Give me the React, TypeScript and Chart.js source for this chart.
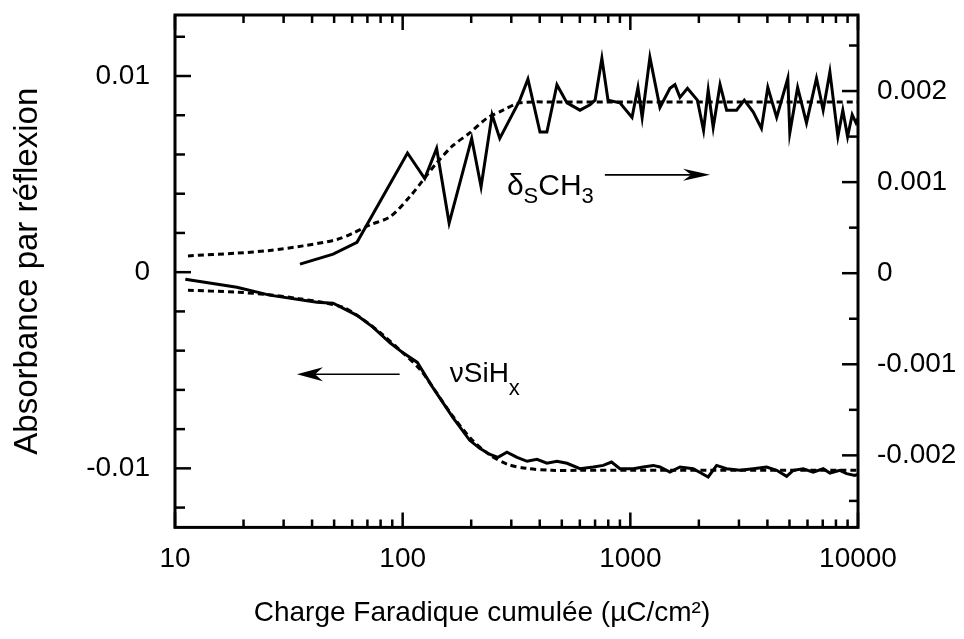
import React, { useEffect, useRef } from "react";
import { Chart, registerables } from "chart.js";

Chart.register(...registerables);

const FONT = "'Liberation Sans', Arial, Helvetica, sans-serif";

// ---- axes ----
const X_MIN = 10;
const X_MAX = 10000;
const X_TICKS = [10, 100, 1000, 10000];
const Y_LEFT_MIN = -0.01301;
const Y_LEFT_MAX = 0.01311;
const LEFT_TICKS = [-0.01, 0, 0.01];
const Y_RIGHT_MIN = -0.002791;
const Y_RIGHT_MAX = 0.002835;
const RIGHT_TICKS = [-0.002, -0.001, 0, 0.001, 0.002];

const X_TITLE = "Charge Faradique cumulée (µC/cm²)";
const Y_TITLE = "Absorbance par réflexion";

// ---- νSiHx measured (left axis) ----
const SIH_X = [11.1, 18.7, 26, 42, 49.5, 63, 74, 88, 100, 116, 136, 166, 197, 218, 242, 262, 287, 318, 352, 389, 430, 476, 527, 601, 688, 760, 827, 900, 1030, 1140, 1261, 1349, 1493, 1652, 1889, 2198, 2393, 2648, 3030, 3467, 3969, 4393, 4858, 5193, 5745, 6356, 7031, 7525, 8326, 8908, 9690, 10000];
const SIH_Y = [-0.00036, -0.00077, -0.00117, -0.00153, -0.00158, -0.0022, -0.0028, -0.0036, -0.0041, -0.0046, -0.0059, -0.0074, -0.00857, -0.00898, -0.00929, -0.00944, -0.00918, -0.00944, -0.00964, -0.00954, -0.00974, -0.00964, -0.00974, -0.01002, -0.00993, -0.00985, -0.00968, -0.01002, -0.01002, -0.00993, -0.00985, -0.00993, -0.01019, -0.00993, -0.01002, -0.01044, -0.00985, -0.01002, -0.0101, -0.01002, -0.00993, -0.0101, -0.01041, -0.0101, -0.01002, -0.01019, -0.01002, -0.01024, -0.0101, -0.01027, -0.01036, -0.0103];

// ---- νSiHx fit (left axis, dashed) ----
const SIH_FIT_X = [11.4, 18.7, 26, 35, 45, 55, 65, 80, 100, 120, 140, 165, 200, 240, 290, 350, 450, 600, 1000, 3000, 10000];
const SIH_FIT_Y = [-0.00092, -0.00102, -0.00115, -0.00135, -0.00155, -0.0018, -0.0023, -0.0031, -0.0041, -0.005, -0.0061, -0.0073, -0.0085, -0.0093, -0.0098, -0.01, -0.0101, -0.0101, -0.0101, -0.0101, -0.0101];

// ---- δsCH3 measured (right axis) ----
const CH3_X = [35.4, 49.5, 63, 105, 125, 141, 160, 201, 221, 247, 267, 327, 355, 401, 430, 476, 527, 601, 665, 700, 750, 798, 900, 1017, 1080, 1127, 1219, 1349, 1493, 1570, 1652, 1782, 1970, 2097, 2198, 2312, 2478, 2648, 2928, 3167, 3467, 3766, 4017, 4393, 4917, 5017, 5430, 5940, 6571, 7031, 7525, 8158, 8576, 9000, 9430, 9800, 10000];
const CH3_Y = [0.0001, 0.00021, 0.00034, 0.00132, 0.00104, 0.00137, 0.00055, 0.00148, 0.00095, 0.00174, 0.00148, 0.0019, 0.00213, 0.00155, 0.00155, 0.00207, 0.00187, 0.00179, 0.00185, 0.0019, 0.00236, 0.0019, 0.00187, 0.00171, 0.00204, 0.00171, 0.00237, 0.00182, 0.00203, 0.00207, 0.00193, 0.00203, 0.0019, 0.00157, 0.00201, 0.0016, 0.00207, 0.00179, 0.00179, 0.0019, 0.00177, 0.00159, 0.00204, 0.00171, 0.00214, 0.00154, 0.00204, 0.00165, 0.00214, 0.00179, 0.00221, 0.0015, 0.00179, 0.0015, 0.00174, 0.00165, 0.0017];

// ---- δsCH3 fit (right axis, dashed) ----
const CH3_FIT_X = [11.4, 18.7, 26.1, 36.5, 51.4, 60.5, 71.8, 88, 107.5, 122.7, 141, 166, 197, 234, 276, 327, 457, 1000, 3000, 10000];
const CH3_FIT_Y = [0.00019, 0.00022, 0.00025, 0.0003, 0.00037, 0.00044, 0.00053, 0.00062, 0.00084, 0.00102, 0.00121, 0.0014, 0.00154, 0.0017, 0.00179, 0.00187, 0.00188, 0.00188, 0.00188, 0.00188];

// ---- annotations (data coordinates) ----
const DELTA_LABEL = { x: 287, y: 0.00086 };
const DELTA_ARROW = { x0: 773, x1: 2240, y: 0.00108 };
const NU_LABEL = { x: 161, y: -0.00561 };
const NU_ARROW = { x0: 97, x1: 34.3, y: -0.0052 };

const zip = (xs: number[], ys: number[]) => xs.map((x, i) => ({ x, y: ys[i] }));

function drawArrow(ctx: CanvasRenderingContext2D, x0: number, x1: number, y: number, headLen: number, half: number) {
  const dir = Math.sign(x1 - x0);
  ctx.beginPath();
  ctx.lineWidth = 1.6;
  ctx.moveTo(x0, y);
  ctx.lineTo(x1 - dir * headLen * 0.6, y);
  ctx.stroke();
  ctx.beginPath();
  ctx.moveTo(x1, y);
  ctx.lineTo(x1 - dir * headLen, y - half);
  ctx.lineTo(x1 - dir * headLen * 0.7, y);
  ctx.lineTo(x1 - dir * headLen, y + half);
  ctx.closePath();
  ctx.fill();
}

function drawParts(ctx: CanvasRenderingContext2D, parts: { t: string; sub?: boolean }[], x: number, y: number, main: number, sub: number, off: number) {
  let cx = x;
  ctx.textBaseline = "alphabetic";
  ctx.textAlign = "left";
  for (const p of parts) {
    ctx.font = `${p.sub ? sub : main}px ${FONT}`;
    ctx.fillText(p.t, cx, p.sub ? y + off : y);
    cx += ctx.measureText(p.t).width;
  }
}

const framePlugin = {
  id: "frameTicks",
  afterDatasetsDraw(chart: any) {
    const { ctx, chartArea: ca, scales } = chart;
    const sx = scales.x;
    const yl = scales.y;
    const yr = scales.y2;
    ctx.save();
    ctx.strokeStyle = "#000";
    ctx.fillStyle = "#000";
    ctx.lineCap = "butt";
    ctx.lineWidth = 2.5;
    // x ticks (bottom and top, inward)
    for (let d = 10; d <= 10000; d *= 10) {
      for (let k = 1; k <= 9; k++) {
        const v = k * d;
        if (v > X_MAX) break;
        const px = sx.getPixelForValue(v);
        const len = k === 1 ? 15 : 8;
        ctx.beginPath();
        ctx.moveTo(px, ca.bottom);
        ctx.lineTo(px, ca.bottom - len);
        ctx.moveTo(px, ca.top);
        ctx.lineTo(px, ca.top + len);
        ctx.stroke();
      }
    }
    // left ticks
    for (let i = -6; i <= 6; i++) {
      const v = i * 0.002;
      const py = yl.getPixelForValue(v);
      const len = i % 5 === 0 ? 16 : 10;
      ctx.beginPath();
      ctx.moveTo(ca.left, py);
      ctx.lineTo(ca.left + len, py);
      ctx.stroke();
    }
    // right ticks
    for (let i = -5; i <= 5; i++) {
      const v = i * 0.0005;
      const py = yr.getPixelForValue(v);
      const len = i % 2 === 0 ? 16 : 9;
      ctx.beginPath();
      ctx.moveTo(ca.right, py);
      ctx.lineTo(ca.right - len, py);
      ctx.stroke();
    }
    // frame
    ctx.lineWidth = 3;
    ctx.strokeRect(ca.left, ca.top, ca.right - ca.left, ca.bottom - ca.top);

    // annotations
    drawParts(
      ctx,
      [{ t: "δ" }, { t: "S", sub: true }, { t: "CH" }, { t: "3", sub: true }],
      sx.getPixelForValue(DELTA_LABEL.x),
      yr.getPixelForValue(DELTA_LABEL.y),
      30,
      22,
      8
    );
    drawArrow(ctx, sx.getPixelForValue(DELTA_ARROW.x0), sx.getPixelForValue(DELTA_ARROW.x1), yr.getPixelForValue(DELTA_ARROW.y), 27, 6);
    drawParts(
      ctx,
      [{ t: "νSiH" }, { t: "x", sub: true }],
      sx.getPixelForValue(NU_LABEL.x),
      yl.getPixelForValue(NU_LABEL.y),
      28,
      22,
      13
    );
    drawArrow(ctx, sx.getPixelForValue(NU_ARROW.x0), sx.getPixelForValue(NU_ARROW.x1), yl.getPixelForValue(NU_ARROW.y), 26, 7);
    ctx.restore();
  },
};

export default function App() {
  const ref = useRef<HTMLCanvasElement>(null);
  useEffect(() => {
    const canvas = ref.current;
    if (!canvas) return;
    const tickFont = { family: FONT, size: 28 };
    const chart = new Chart(canvas, {
      type: "line",
      data: {
        datasets: [
          { label: "νSiHx", data: zip(SIH_X, SIH_Y), yAxisID: "y", borderColor: "#000", borderWidth: 3, pointRadius: 0, tension: 0, fill: false },
          { label: "δsCH3", data: zip(CH3_X, CH3_Y), yAxisID: "y2", borderColor: "#000", borderWidth: 3, pointRadius: 0, tension: 0, fill: false },
          { label: "νSiHx fit", data: zip(SIH_FIT_X, SIH_FIT_Y), yAxisID: "y", borderColor: "#000", borderWidth: 3, borderDash: [6, 4], pointRadius: 0, tension: 0.3, fill: false },
          { label: "δsCH3 fit", data: zip(CH3_FIT_X, CH3_FIT_Y), yAxisID: "y2", borderColor: "#000", borderWidth: 3, borderDash: [6, 4], pointRadius: 0, tension: 0.3, fill: false },
        ],
      },
      options: {
        animation: false,
        responsive: false,
        devicePixelRatio: 1,
        layout: { padding: { top: 15, left: 0, right: 0, bottom: 0 } },
        plugins: {
          legend: { display: false },
          tooltip: { enabled: false },
          title: {
            display: true,
            position: "bottom",
            text: X_TITLE,
            color: "#000",
            font: { family: FONT, size: 28, weight: "normal" },
            padding: { top: 0, bottom: 9 },
          },
        },
        scales: {
          x: {
            type: "logarithmic",
            position: "bottom",
            min: X_MIN,
            max: X_MAX,
            grid: { display: false, drawTicks: false },
            border: { display: false },
            afterBuildTicks: (s: any) => {
              s.ticks = X_TICKS.map((v) => ({ value: v }));
            },
            afterFit: (s: any) => {
              s.height = 69;
              s.paddingLeft = 0;
              s.paddingRight = 0;
            },
            ticks: {
              autoSkip: false,
              maxRotation: 0,
              color: "#000",
              font: tickFont,
              padding: 15,
              callback: (v: any) => String(v),
            },
          },
          y: {
            type: "linear",
            position: "left",
            min: Y_LEFT_MIN,
            max: Y_LEFT_MAX,
            grid: { display: false, drawTicks: false },
            border: { display: false },
            afterBuildTicks: (s: any) => {
              s.ticks = LEFT_TICKS.map((v) => ({ value: v }));
            },
            afterFit: (s: any) => {
              s.width = 175;
              s.paddingTop = 0;
              s.paddingBottom = 0;
            },
            ticks: { color: "#000", font: tickFont, padding: 25, callback: (v: any) => String(v) },
            title: {
              display: true,
              text: Y_TITLE,
              color: "#000",
              font: { family: FONT, size: 33 },
              padding: { top: 8, bottom: 0 },
            },
          },
          y2: {
            type: "linear",
            position: "right",
            min: Y_RIGHT_MIN,
            max: Y_RIGHT_MAX,
            grid: { display: false, drawTicks: false },
            border: { display: false },
            afterBuildTicks: (s: any) => {
              s.ticks = RIGHT_TICKS.map((v) => ({ value: v }));
            },
            afterFit: (s: any) => {
              s.width = 106;
              s.paddingTop = 0;
              s.paddingBottom = 0;
            },
            ticks: { color: "#000", font: tickFont, padding: 19, callback: (v: any) => String(v) },
          },
        },
      },
      plugins: [framePlugin],
    } as any);
    return () => chart.destroy();
  }, []);
  return (
    <div style={{ position: "absolute", left: 0, top: 0, width: 964, height: 639, background: "#fff" }}>
      <canvas ref={ref} width={964} height={639} style={{ display: "block", width: 964, height: 639 }} />
    </div>
  );
}
